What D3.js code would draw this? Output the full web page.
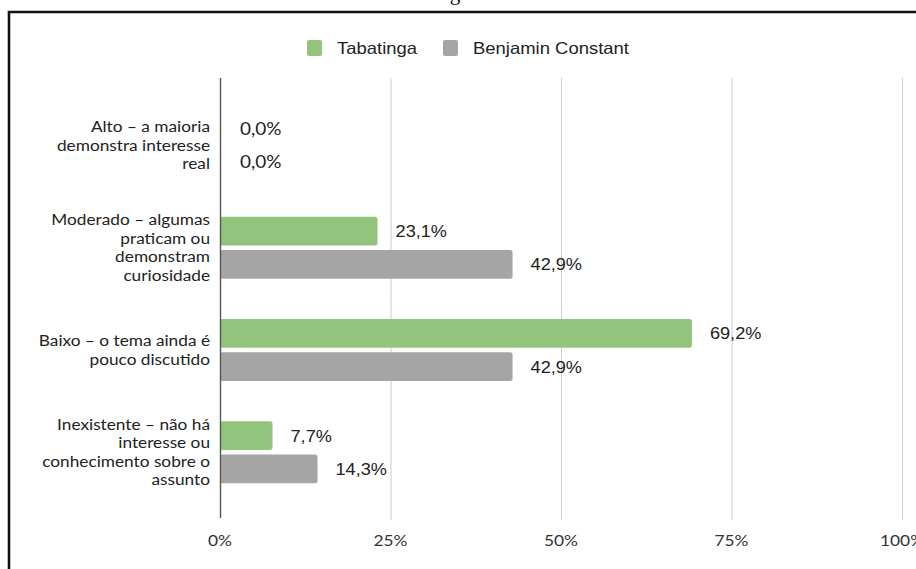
<!DOCTYPE html>
<html>
<head>
<meta charset="utf-8">
<script src="https://cdn.jsdelivr.net/npm/d3@7"></script>
<style>
  html, body { margin: 0; padding: 0; background: #fff; }
  svg { display: block; }
</style>
</head>
<body>
<svg id="chart" width="916" height="569"></svg>
<script>
// Interest level categories (each label wrapped onto several lines)
const categories = ["Alto", "Moderado", "Baixo", "Inexistente"];
const categoryLines = [
  ["Alto – a maioria", "demonstra interesse", "real"],
  ["Moderado – algumas", "praticam ou", "demonstram", "curiosidade"],
  ["Baixo – o tema ainda é", "pouco discutido"],
  ["Inexistente – não há", "interesse ou", "conhecimento sobre o", "assunto"]
];
const seriesNames = ["Tabatinga", "Benjamin Constant"];
const tabatinga = [0.0, 23.1, 69.2, 7.7];
const benjaminConstant = [0.0, 42.9, 42.9, 14.3];
const tickValues = [0, 25, 50, 75, 100];
const tickLabels = ["0%", "25%", "50%", "75%", "100%"];
const colors = ["#93c47d", "#a5a5a5"];

const svg = d3.select("#chart");
const sansFont = "'Liberation Sans', Arial, sans-serif";
const labelFont = "Lato, 'Open Sans', sans-serif";

// Text drawn slightly wide: anchor at (x, y), then stretch horizontally
const wide = (sel, x, y, sx) => sel.attr("transform", `translate(${x},${y}) scale(${sx},1)`);

// Frame lines running off the right and bottom edges
svg.append("path")
  .attr("d", "M9,569 V12 H916")
  .attr("fill", "none")
  .attr("stroke", "#111")
  .attr("stroke-width", 2.6);

// Caption fragment above the frame
svg.append("text")
  .attr("x", 455).attr("y", 0)
  .attr("text-anchor", "middle")
  .attr("font-family", "'Liberation Serif', 'Times New Roman', serif")
  .attr("font-size", 21)
  .attr("fill", "#111")
  .text("g");

// Scales
const x = d3.scaleLinear().domain([0, 100]).range([220, 902]);
const y = d3.scaleBand().domain(categories).range([94.5, 503.5]).padding(0);
const sub = d3.scaleBand().domain(seriesNames).range([20, 82]).paddingInner(0.13).paddingOuter(0);

const plotTop = 78, plotBottom = 520;

// Vertical gridlines
svg.append("g").selectAll("line")
  .data(tickValues.slice(1))
  .join("line")
  .attr("x1", d => x(d) + 0.5).attr("x2", d => x(d) + 0.5)
  .attr("y1", plotTop).attr("y2", plotBottom)
  .attr("stroke", "#cccccc").attr("stroke-width", 1);

// X tick labels
svg.append("g").selectAll("text")
  .data(tickValues)
  .join("text")
  .each(function (d) { wide(d3.select(this), x(d), 546, 1.12); })
  .attr("text-anchor", "middle")
  .attr("font-family", labelFont)
  .attr("font-size", 15.5)
  .attr("fill", "#333")
  .text((d, i) => tickLabels[i]);

// Bars
const seriesData = [tabatinga, benjaminConstant];
const bars = [];
categories.forEach((c, i) => {
  seriesNames.forEach((s, j) => {
    bars.push({ cat: c, series: s, idx: j, value: seriesData[j][i] });
  });
});

svg.append("g").selectAll("rect")
  .data(bars.filter(d => d.value > 0))
  .join("rect")
  .attr("x", x(0))
  .attr("y", d => y(d.cat) + sub(d.series))
  .attr("width", d => x(d.value) - x(0))
  .attr("height", sub.bandwidth())
  .attr("rx", 2.5)
  .attr("fill", d => colors[d.idx]);

// Value axis baseline
svg.append("line")
  .attr("x1", x(0) + 0.5).attr("x2", x(0) + 0.5)
  .attr("y1", plotTop).attr("y2", plotBottom - 2)
  .attr("stroke", "#555").attr("stroke-width", 1.4);

// Value labels
const fmt = v => v.toFixed(1).replace(".", ",") + "%";
svg.append("g").selectAll("text")
  .data(bars)
  .join("text")
  .each(function (d) {
    const lx = x(d.value) + (d.value > 0 ? 18 : 20);
    const ly = y(d.cat) + sub(d.series) + sub.bandwidth() / 2;
    wide(d3.select(this), lx, ly, d.value > 0 ? 1.1 : 1.15);
  })
  .attr("dy", "0.36em")
  .attr("font-family", d => d.value > 0 ? sansFont : labelFont)
  .attr("font-size", 16.5)
  .attr("fill", "#222")
  .text(d => fmt(d.value));

// Category labels
const lineH = 18.5;
const catG = svg.append("g");
categories.forEach((c, i) => {
  const lines = categoryLines[i];
  const cy = y(c) + y.bandwidth() / 2;
  const t = catG.append("text")
    .attr("text-anchor", "end")
    .attr("font-family", labelFont)
    .attr("font-size", 15)
    .attr("fill", "#222");
  wide(t, 210, 0, 1.15);
  lines.forEach((ln, k) => {
    t.append("tspan")
      .attr("x", 0)
      .attr("y", cy + (k - (lines.length - 1) / 2) * lineH + 5.3)
      .text(ln);
  });
});

// Legend
const legendItems = [
  { name: seriesNames[0], sx: 307, tx: 337, color: colors[0] },
  { name: seriesNames[1], sx: 443, tx: 473, color: colors[1] }
];
const lg = svg.append("g");
legendItems.forEach(d => {
  lg.append("rect")
    .attr("x", d.sx).attr("y", 40)
    .attr("width", 15).attr("height", 16)
    .attr("rx", 2)
    .attr("fill", d.color);
  const t = lg.append("text")
    .attr("font-family", sansFont)
    .attr("font-size", 16.5)
    .attr("fill", "#222")
    .text(d.name);
  wide(t, d.tx, 54, 1.12);
});
</script>
</body>
</html>
